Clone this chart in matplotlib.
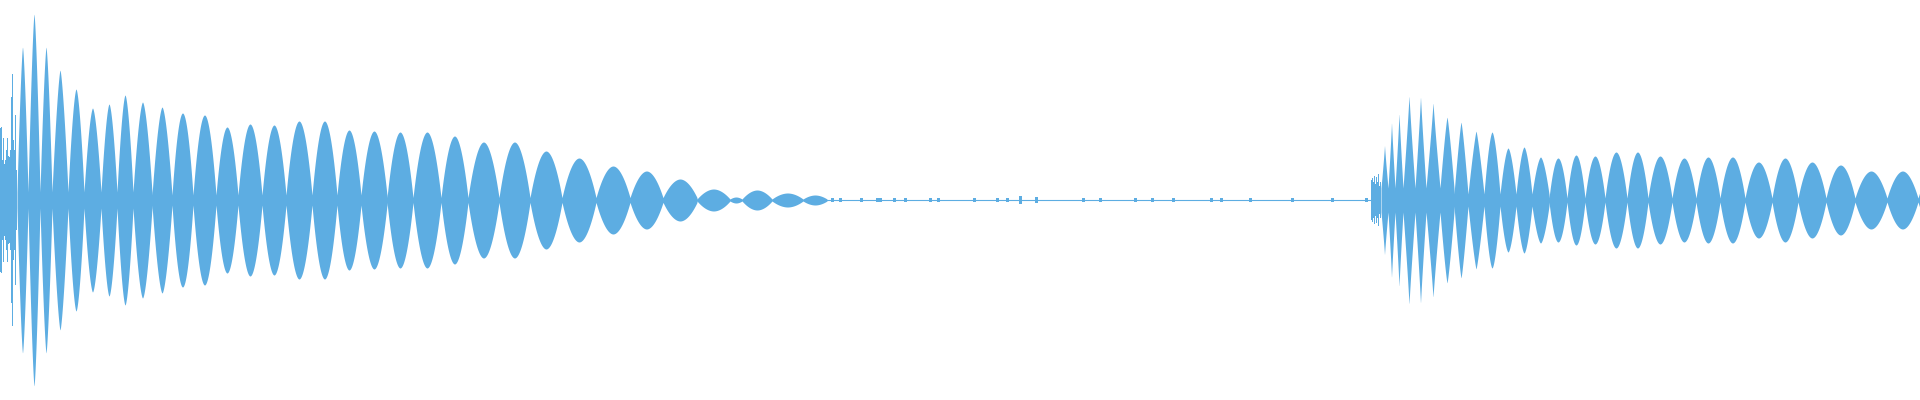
import numpy as np
import matplotlib
matplotlib.use('Agg')
import matplotlib.pyplot as plt

WAVE_COLOR = '#5dade2'

# all amplitudes in percent of full scale, positions in sample columns (0..1920)

# first hit: noisy attack, one value per column
attack1_amp = [36, 36.5, 20, 31, 18, 20, 25, 31, 22, 21.5, 25, 51.5, 63, 30, 25, 42.5, 15]

# first hit: beating lobes (node positions and lobe peaks)
burst1_nodes = [17, 28, 40, 52, 68, 84, 101, 117, 133, 152, 172, 193, 216, 238, 262, 286,
                312, 337, 361, 387, 413, 441, 468, 499, 530, 562, 596, 630, 663, 697, 730,
                742, 772, 803, 827]
burst1_peaks = [76.5, 93, 76.5, 65, 55.5, 46, 48, 52.5, 49, 46.5,
                43.5, 42.5, 36.5, 38, 37.5, 39.5, 39.5, 35, 34.5, 34,
                34, 32, 29, 29, 24.5, 21, 17, 14.5, 10.5, 5.5,
                1.5, 5, 3.5, 2.5]
burst1_floor = [4] * 9 + [2.5] * 10 + [1.2] * 10 + [0.5] * 5
burst1_round = [1.4] * 4 + [1.6] * 6 + [1.9] * 24

# quiet part between the hits
tail_start, tail_end = 827, 1371
blip_x = [832, 840, 861, 877, 880, 894, 905, 930, 938, 974, 997, 1007, 1020, 1036,
          1083, 1100, 1135, 1152, 1173, 1211, 1221, 1250, 1292, 1332, 1366]
blip_amp = [1, 1, 1, 1, 1, 0.8, 0.8, 1, 0.8, 0.8, 1, 1, 2, 1.5,
            0.8, 1, 0.8, 0.8, 0.8, 0.8, 0.8, 0.8, 1, 0.8, 1]

# second hit
attack2_amp = [10, 11, 9, 12, 8, 11.5, 9, 13, 7, 9]
burst2_nodes = [1381, 1388, 1395, 1403, 1415, 1426, 1440, 1454, 1468, 1484, 1500, 1516,
                1532, 1549, 1567, 1585, 1605, 1627, 1648, 1672, 1696, 1720, 1745, 1772,
                1798, 1826, 1855, 1887, 1918, 1950]
burst2_peaks = [27.5, 39, 43.5, 52.5, 52, 49, 41.5, 39, 34.5, 34,
                26, 26.5, 21.5, 21, 22.5, 22, 24, 24, 22, 21,
                21.5, 21.5, 19, 21, 19, 17.5, 14.5, 14.5, 15]
burst2_floor = [6] * 7 + [3] * 6 + [1] * 16
burst2_round = [0.9] * 6 + [1.2] * 3 + [1.6] * 4 + [1.9] * 16


def lobe_envelope(nodes, peaks, floors, rnd):
    # lens shaped lobe: pointed at the nodes, rounder at the top for larger rnd
    xs, amps = [], []
    for i in range(len(peaks)):
        x = np.linspace(nodes[i], nodes[i + 1], 80)
        t = (x - nodes[i]) / (nodes[i + 1] - nodes[i])
        a = floors[i] + (peaks[i] - floors[i]) * (1 - np.abs(2 * t - 1) ** rnd[i])
        xs.append(x)
        amps.append(a)
    return np.concatenate(xs), np.concatenate(amps)


fig = plt.figure(figsize=(19.2, 4), dpi=100)
ax = fig.add_axes([0, 0, 1, 1])

# attacks as column bars
a1 = np.array(attack1_amp)
ax.bar(np.arange(len(a1)), 2 * a1, bottom=-a1, width=1, align='edge',
       color=WAVE_COLOR, linewidth=0)
a2 = np.array(attack2_amp)
ax.bar(tail_end + np.arange(len(a2)), 2 * a2, bottom=-a2, width=1, align='edge',
       color=WAVE_COLOR, linewidth=0)

# beating lobes
for nodes, peaks, floors, rnd in [(burst1_nodes, burst1_peaks, burst1_floor, burst1_round),
                                  (burst2_nodes, burst2_peaks, burst2_floor, burst2_round)]:
    x, a = lobe_envelope(nodes, peaks, floors, rnd)
    ax.fill_between(x, -a, a, color=WAVE_COLOR, linewidth=0)

# quiet tail
ax.plot([tail_start, tail_end], [0, 0], color=WAVE_COLOR, linewidth=0.8)
b = np.array(blip_amp)
ax.bar(blip_x, 2 * b, bottom=-b, width=3, color=WAVE_COLOR, linewidth=0)

ax.set_xlim(0, 1920)
ax.set_ylim(-100, 100)
ax.axis('off')

fig.savefig('out.png', dpi=100, facecolor='white')
